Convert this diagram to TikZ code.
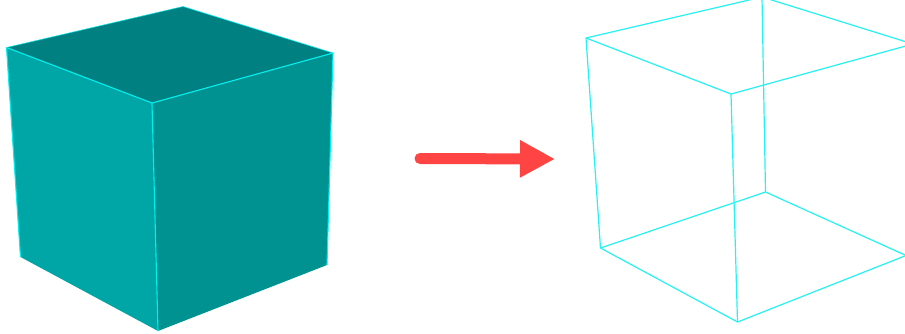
\documentclass[tikz,border=0pt]{standalone}
\usepackage{tikz}
\usetikzlibrary{arrows.meta}
\definecolor{face_left}{HTML}{00A5A5}
\definecolor{face_right}{HTML}{009191}
\definecolor{face_top}{HTML}{008080}
\definecolor{edge_cyan}{HTML}{00F0F0}
\definecolor{arrow_red}{HTML}{FF4444}
\tikzset{
  cube_edge/.style = {draw=edge_cyan, line width=1.1pt, line join=round},
  wire_edge/.style = {draw=edge_cyan!85!white, line width=1.2pt},
  red_arrow/.style = {draw=arrow_red, line width=11pt, line cap=round,
    -{Triangle[length=35pt, width=35pt, fill=arrow_red]}}
}
\begin{document}
\begin{tikzpicture}[x=1pt, y=-1pt]
      \useasboundingbox (0,0) rectangle (905,333);
      \clip (0,0) rectangle (905,333);
      % solid cube
      \coordinate (s_tl) at (6.5,47.5);
      \coordinate (s_tb) at (183,6.5);
      \coordinate (s_tr) at (333,53);
      \coordinate (s_tf) at (152,103);
      \coordinate (s_bl) at (20.5,257);
      \coordinate (s_br) at (327,265);
      \coordinate (s_bf) at (158,331);
      \fill [face_top] (s_tl) -- (s_tb) -- (s_tr) -- (s_tf) -- cycle;
      \fill [face_left] (s_tl) -- (s_tf) -- (s_bf) -- (s_bl) -- cycle;
      \fill [face_right] (s_tf) -- (s_tr) -- (s_br) -- (s_bf) -- cycle;
      \foreach \a/\b in {s_tl/s_tf, s_tf/s_tr, s_tf/s_bf, s_tl/s_bl, s_tr/s_br}
        \draw [cube_edge] (\a) -- (\b);
      \draw [cube_edge, line width=0.5pt] (s_tl) -- (s_tb) -- (s_tr);
      % arrow
      \coordinate (tail) at (420,158.5);
      \coordinate (tip) at (555,159);
      \draw [red_arrow] (tail) -- (tip);
      % wireframe cube
      \coordinate (w_tl) at (586,38);
      \coordinate (w_tb) at (762,-3);
      \coordinate (w_tr) at (913,44);
      \coordinate (w_tf) at (731,94);
      \coordinate (w_bl) at (600.5,248);
      \coordinate (w_bb) at (765.5,192);
      \coordinate (w_br) at (906,255.5);
      \coordinate (w_bf) at (737.5,322);
      \foreach \a/\b in {w_tl/w_tb, w_tb/w_tr, w_tr/w_tf, w_tf/w_tl,
                         w_bl/w_bb, w_bb/w_br, w_br/w_bf, w_bf/w_bl,
                         w_tl/w_bl, w_tb/w_bb, w_tf/w_bf}
        \draw [wire_edge] (\a) -- (\b);
    \end{tikzpicture}
\end{document}
